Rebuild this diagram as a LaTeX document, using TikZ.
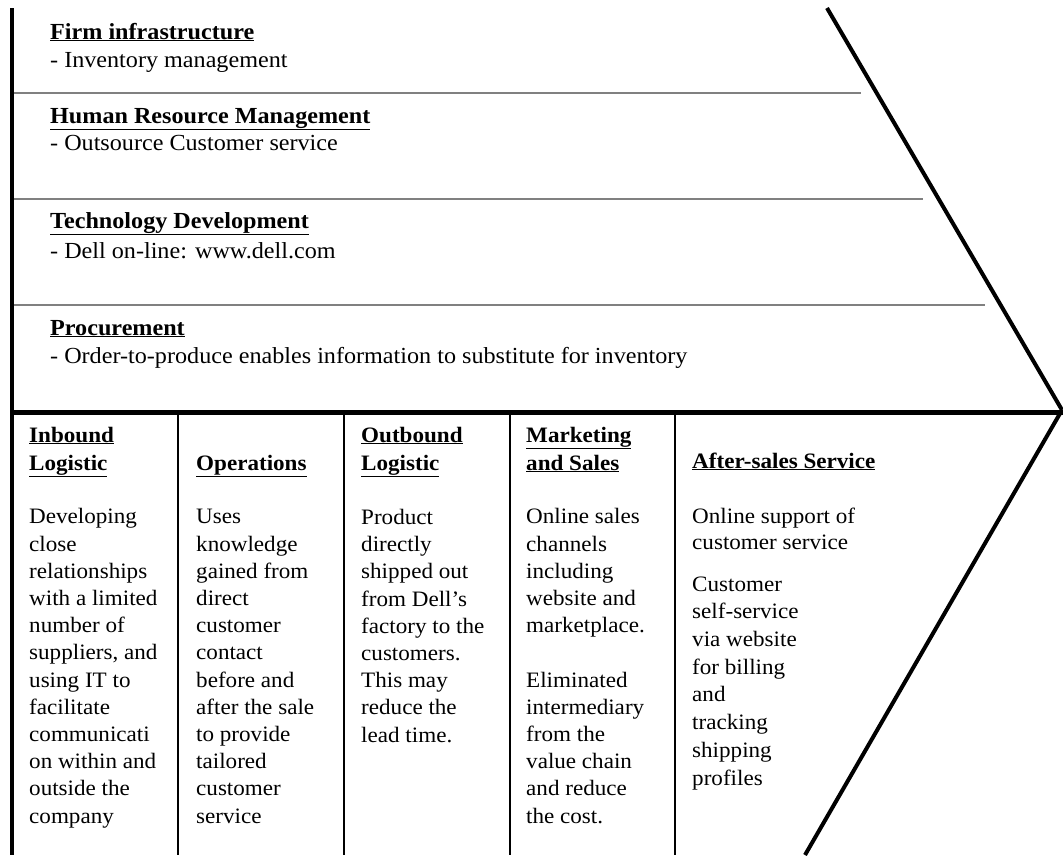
\documentclass[tikz,border=0pt]{standalone}
\usepackage{fontspec}
\setmainfont{Liberation Serif}[FakeStretch=1.05]
\begin{document}
\begin{tikzpicture}[x=1pt,y=-1pt,
  lbl/.style={anchor=base west,inner sep=0pt,font=\fontsize{23}{27}\selectfont},
  hd/.style={anchor=base west,inner sep=0pt,font=\fontsize{23}{27}\selectfont\bfseries},
  coltext/.style={anchor=base west,inner sep=0pt,align=left,font=\fontsize{22}{27.2}\selectfont},
  colhd/.style={anchor=base west,inner sep=0pt,align=left,font=\fontsize{22}{28}\selectfont\bfseries},
  border/.style={line width=4pt,black},
  greyrule/.style={line width=2pt,color=black!50},
  colrule/.style={line width=1.5pt,black}]
\useasboundingbox (0,0) rectangle (1063,855);
% frame coordinates
\coordinate (lt) at (12,8);
\coordinate (lb) at (12,855);
\coordinate (dt) at (827,8);
\coordinate (tip) at (1062,410);
\coordinate (db) at (805,855);
\coordinate (hl) at (12,412);
\coordinate (hr) at (1063,412);
% grey separators
\draw[greyrule] (12,93) -- (861,93);
\draw[greyrule] (12,199) -- (923,199);
\draw[greyrule] (12,305) -- (985,305);
% column separators
\foreach \xx in {178,344,510,675} \draw[colrule] (\xx,414) -- (\xx,855);
% thick borders
\draw[border] (lt) -- (lb);
\draw[border] (dt) -- (tip);
\draw[border] (tip) -- (db);
\draw[line width=5pt] (hl) -- (hr);
% support activities
\node[hd]  (fi)  at (50,39)  {\underline{Firm infrastructure}};
\node[lbl] (fit) at (50,67)  {- Inventory management};
\node[hd]  (hr1) at (50,123) {\underline{Human Resource Management}};
\node[lbl] (hrt) at (50,150) {- Outsource Customer service};
\node[hd]  (td)  at (50,228) {\underline{Technology Development}};
\node[lbl] (tdt) at (50,258) {- Dell on-line: www.dell.com};
\node[hd]  (pr)  at (50,335) {\underline{Procurement}};
\node[lbl] (prt) at (50,363) {- Order-to-produce enables information to substitute for inventory};
% primary activities (anchors at the baseline of the last line)
\node[colhd] (h1) at (29,470) {\underline{Inbound}\\\underline{Logistic}};
\node[coltext] (t1) at (29,823) {Developing\\close\\relationships\\with a limited\\number of\\suppliers, and\\using IT to\\facilitate\\communicati\\on within and\\outside the\\company};
\node[colhd] (h2) at (196,470) {\underline{Operations}};
\node[coltext] (t2) at (196,823) {Uses\\knowledge\\gained from\\direct\\customer\\contact\\before and\\after the sale\\to provide\\tailored\\customer\\service};
\node[colhd] (h3) at (361,470) {\underline{Outbound}\\\underline{Logistic}};
\node[coltext] (t3) at (361,742) {Product\\directly\\shipped out\\from Dell’s\\factory to the\\customers.\\This may\\reduce the\\lead time.};
\node[colhd] (h4) at (526,470) {\underline{Marketing}\\\underline{and Sales}};
\node[coltext] (t4) at (526,823) {Online sales\\channels\\including\\website and\\marketplace.\\[27.2pt]Eliminated\\intermediary\\from the\\value chain\\and reduce\\the cost.};
\node[colhd] (h5) at (692,468) {\underline{After-sales Service}};
\node[coltext,font=\fontsize{22}{26}\selectfont] (t5a) at (692,549) {Online support of\\customer service};
\node[coltext,font=\fontsize{22}{27.7}\selectfont] (t5b) at (692,785) {Customer\\self-service\\via website\\for billing\\and\\tracking\\shipping\\profiles};
\end{tikzpicture}
\end{document}
